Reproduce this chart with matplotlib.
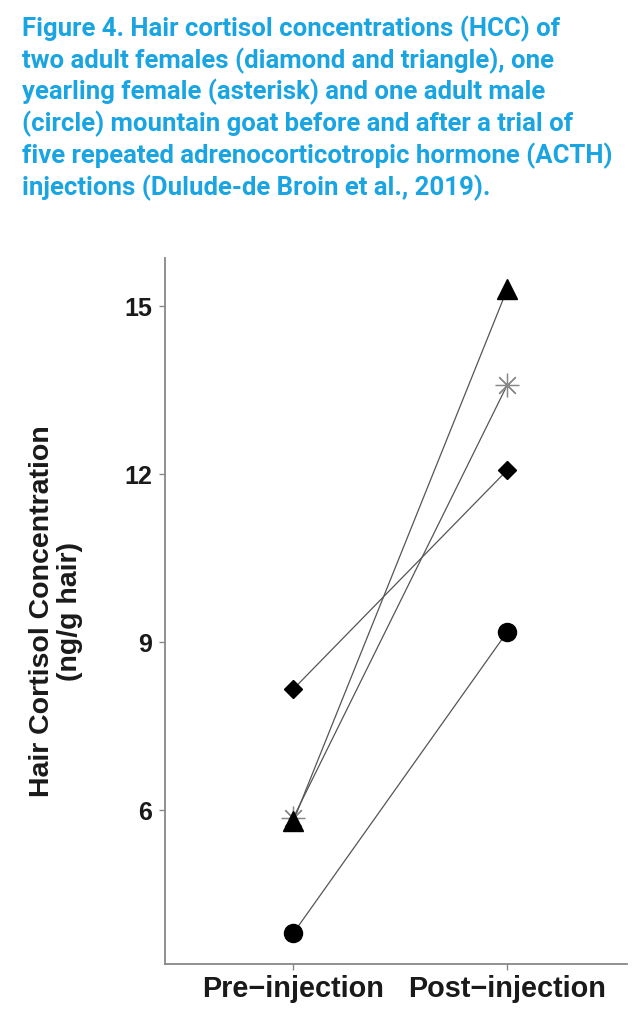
import numpy as np
import matplotlib
matplotlib.use("Agg")
import matplotlib.pyplot as plt

# values (ng/g hair)
groups = ["Pre\u2212injection", "Post\u2212injection"]
diamond = [8.16, 12.07]     # adult female
triangle = [5.80, 15.30]    # adult female
asterisk = [5.86, 13.59]    # yearling female
circle = [3.80, 9.18]       # adult male
yticks = [6, 9, 12, 15]

title = ("Figure 4. Hair cortisol concentrations (HCC) of\n"
         "two adult females (diamond and triangle), one\n"
         "yearling female (asterisk) and one adult male\n"
         "(circle) mountain goat before and after a trial of\n"
         "five repeated adrenocorticotropic hormone (ACTH)\n"
         "injections (Dulude-de Broin et al., 2019).")

fig = plt.figure(figsize=(6.41, 10.24), dpi=100)
fig.text(0.034, 0.985, title, ha="left", va="top", color="#1aa5e2",
         family="Roboto", weight="bold", fontsize=18.5, linespacing=1.27)

ax = fig.add_axes([0.2574, 0.0586, 0.7206, 0.6894])
x = np.array([1, 2])
line_kw = dict(color="#555555", lw=0.9, zorder=1)
ax.plot(x, diamond, **line_kw)
ax.plot(x, triangle, **line_kw)
ax.plot(x, asterisk, **line_kw)
ax.plot(x, circle, **line_kw)

ax.plot(x, circle, "o", color="black", ms=13, ls="none", zorder=3)
ax.plot(x, diamond, "D", color="black", ms=9, ls="none", zorder=3)
ax.plot(x, asterisk, marker=(8, 2, 0), color="#888888", mew=0.9, ms=17, ls="none", zorder=3)
ax.plot(x, triangle, "^", color="black", ms=15, ls="none", zorder=4)

ax.set_xlim(0.4, 2.56)
ax.set_ylim(3.25, 15.86)
ax.set_xticks(x)
ax.set_xticklabels(groups)
ax.set_yticks(yticks)

for s in ["top", "right"]:
    ax.spines[s].set_visible(False)
for s in ["left", "bottom"]:
    ax.spines[s].set_color("#888888")
    ax.spines[s].set_linewidth(1.3)

ax.tick_params(axis="both", colors="#888888", length=4, width=1)
for lab in ax.get_yticklabels():
    lab.set_family("Liberation Sans")
    lab.set_weight("bold")
    lab.set_fontsize(18)
    lab.set_color("#1a1a1a")
for lab in ax.get_xticklabels():
    lab.set_family("Liberation Sans")
    lab.set_weight("bold")
    lab.set_fontsize(20.8)
    lab.set_color("#1a1a1a")
ax.tick_params(axis="y", pad=5)
ax.tick_params(axis="x", pad=4)

ax.set_ylabel("Hair Cortisol Concentration\n(ng/g hair)", family="Liberation Sans",
              weight="bold", fontsize=20.5, color="#1a1a1a", labelpad=30, linespacing=1.1)

fig.savefig("out.png", dpi=100)
